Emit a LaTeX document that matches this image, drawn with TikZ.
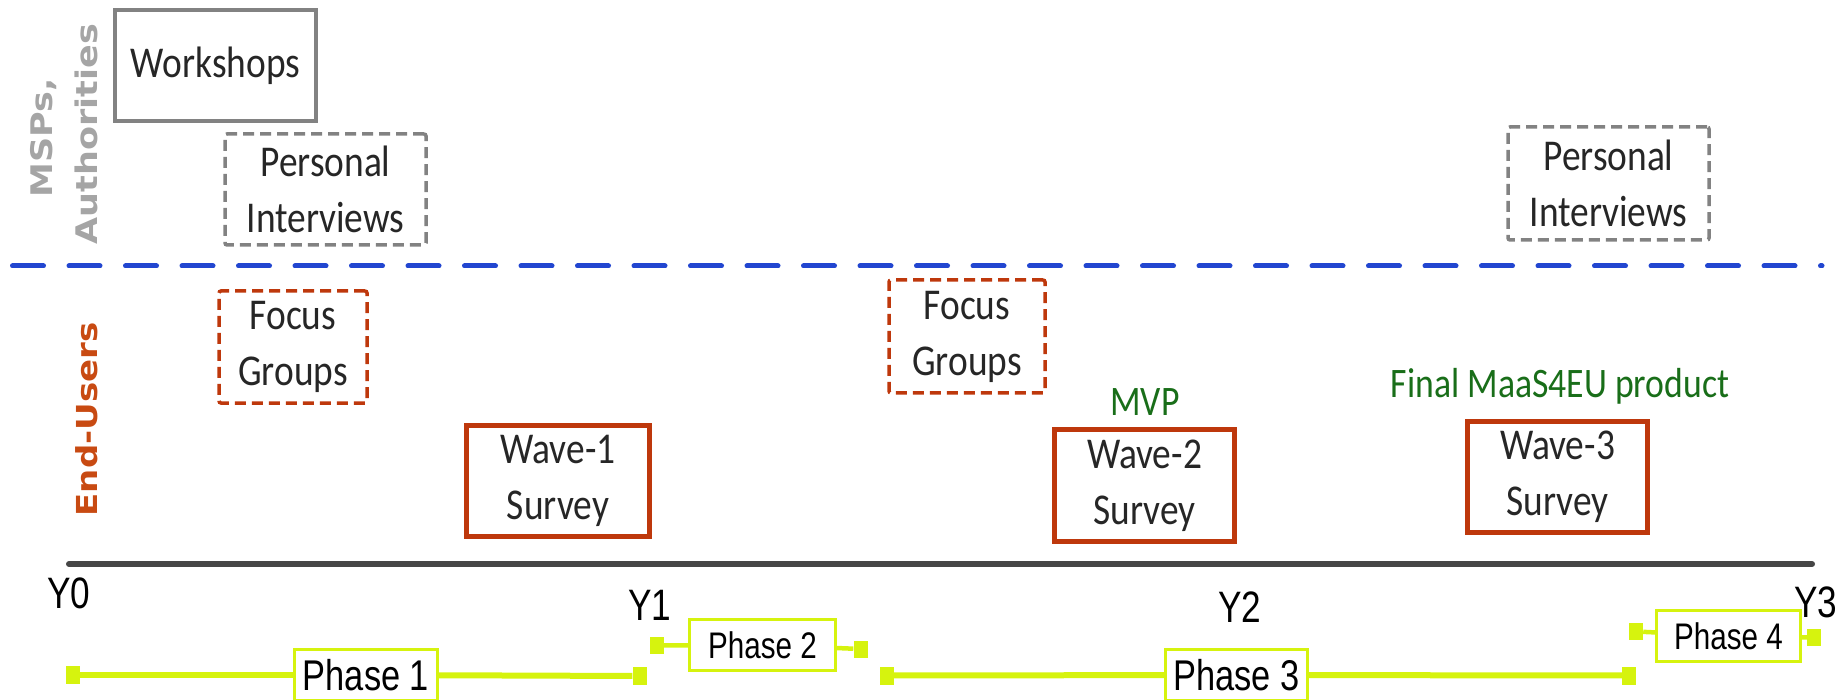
\documentclass[tikz,border=0pt]{standalone}
\usepackage{fontspec}
\setmainfont{Carlito}[FakeStretch=0.85]
\newfontfamily\narrowf{Liberation Sans}[FakeStretch=0.8]
\newfontfamily\lblf{DejaVu Sans}
\definecolor{boxgray}{RGB}{130,130,130}
\definecolor{redbox}{RGB}{190,56,12}
\definecolor{orangelbl}{RGB}{200,74,18}
\definecolor{bluedash}{RGB}{34,70,208}
\definecolor{phasegreen}{RGB}{214,243,14}
\definecolor{tline}{RGB}{70,70,70}
\definecolor{txt}{RGB}{38,38,38}
\definecolor{darkgreen}{RGB}{25,110,25}
\definecolor{lblgray}{RGB}{165,165,165}
\begin{document}
\begin{tikzpicture}[x=1pt,y=-1pt,
  boxtext/.style={font=\fontsize{44}{56}\selectfont, text=txt, align=center, inner sep=0pt},
  graybox/.style={boxtext, draw=boxgray, line width=3.5pt},
  graydash/.style={graybox, dash pattern=on 11pt off 6pt, rounded corners=2pt},
  reddash/.style={boxtext, draw=redbox, line width=3.5pt, dash pattern=on 11pt off 6pt, rounded corners=2pt},
  wavebox/.style={boxtext, draw=redbox, line width=4.5pt},
  phasebox/.style={draw=phasegreen, line width=3pt, fill=white, inner sep=0pt, text=black, minimum height=51pt},
  phasecap/.style={fill=phasegreen, inner sep=0pt, minimum width=14pt, minimum height=17pt},
  phaseline/.style={draw=phasegreen, line width=5pt},
  yearlbl/.style={font=\narrowf\fontsize{44}{44}\selectfont, text=black, inner sep=0pt, anchor=base},
  greenlbl/.style={font=\fontsize{42}{42}\selectfont, text=darkgreen, inner sep=0pt, anchor=base},
  sidelbl/.style={rotate=90, inner sep=0pt, anchor=base},
]
\clip (0,0) rectangle (1839,700);

% side labels
\node[sidelbl, text=lblgray, font={\lblf\bfseries\fontsize{35}{35}\selectfont}] (msp) at (52,137.5)
  {\scalebox{1}[0.85]{MSPs,}};
\node[sidelbl, text=lblgray, font={\lblf\bfseries\fontsize{35}{35}\selectfont}] (auth) at (97,134)
  {\scalebox{1}[0.85]{Authorities}};
\node[sidelbl, text=orangelbl, font={\lblf\bfseries\fontsize{34}{34}\selectfont}] (eu) at (97,419.5)
  {\scalebox{1}[0.85]{End-Users}};

% separators
\coordinate (d0) at (12.5,266);
\coordinate (d1) at (1822,266);
\draw[bluedash, line width=5pt, line cap=round, dash pattern=on 31pt off 25.5pt] (d0) -- (d1);
\coordinate (t0) at (69,564);
\coordinate (t1) at (1812,564);
\draw[tline, line width=6pt, line cap=round] (t0) -- (t1);

% boxes
\node[graybox, minimum width=201pt, minimum height=111pt] (ws) at (215.5,65.5) {Workshops};
\node[graydash, minimum width=201pt, minimum height=111pt] (pi1) at (325.5,189.5) {Personal\\Interviews};
\node[graydash, minimum width=201pt, minimum height=113pt] (pi2) at (1608.5,183.5) {Personal\\Interviews};
\node[reddash, minimum width=148pt, minimum height=112pt] (fg1) at (293,347) {Focus\\Groups};
\node[reddash, minimum width=156pt, minimum height=113pt] (fg2) at (967,336.5) {Focus\\Groups};
\node[wavebox, minimum width=183pt, minimum height=111pt] (w1) at (558,481) {Wave-1\\Survey};
\node[wavebox, minimum width=180pt, minimum height=112pt] (w2) at (1144.5,485.5) {Wave-2\\Survey};
\node[wavebox, minimum width=180pt, minimum height=111pt] (w3) at (1557.5,477) {Wave-3\\Survey};

% green labels
\node[greenlbl] (mvp) at (1145,415) {MVP};
\node[greenlbl] (final) at (1560,398) {Final MaaS4EU product};

% year labels
\node[yearlbl] (y0) at (69,608) {Y0};
\node[yearlbl] (y1) at (650,620) {Y1};
\node[yearlbl] (y2) at (1240,622) {Y2};
\node[yearlbl] (y3) at (1816,617) {Y3};

% phases
\node[phasebox, minimum width=143pt, font=\narrowf\fontsize{43}{43}\selectfont] (p1) at (366,675) {Phase 1};
\node[phasebox, minimum width=146pt, font=\narrowf\fontsize{37}{37}\selectfont] (p2) at (762.5,645) {Phase 2};
\node[phasebox, minimum width=142pt, font=\narrowf\fontsize{43}{43}\selectfont] (p3) at (1236.5,675) {Phase 3};
\node[phasebox, minimum width=144pt, font=\narrowf\fontsize{37}{37}\selectfont] (p4) at (1728.5,636) {Phase 4};

\node[phasecap, minimum height=18pt] (c1a) at (72.5,675) {};
\node[phasecap, minimum height=18pt] (c1b) at (639.5,676) {};
\node[phasecap] (c2a) at (656.5,645.5) {};
\node[phasecap] (c2b) at (860.5,649) {};
\node[phasecap, minimum height=18pt] (c3a) at (887,675.5) {};
\node[phasecap, minimum height=18pt] (c3b) at (1629,675.5) {};
\node[phasecap] (c4a) at (1636,631.5) {};
\node[phasecap] (c4b) at (1814,637.5) {};

\draw[phaseline, line width=6pt] (c1a) -- (p1);
\draw[phaseline, line width=6pt] (p1) -- (c1b);
\draw[phaseline, line width=4.5pt] (c2a) -- (p2);
\draw[phaseline, line width=4.5pt] (p2) -- (c2b);
\draw[phaseline, line width=6pt] (c3a) -- (p3);
\draw[phaseline, line width=6pt] (p3) -- (c3b);
\draw[phaseline, line width=4.5pt] (c4a) -- (p4);
\draw[phaseline, line width=4.5pt] (p4) -- (c4b);
\end{tikzpicture}
\end{document}
